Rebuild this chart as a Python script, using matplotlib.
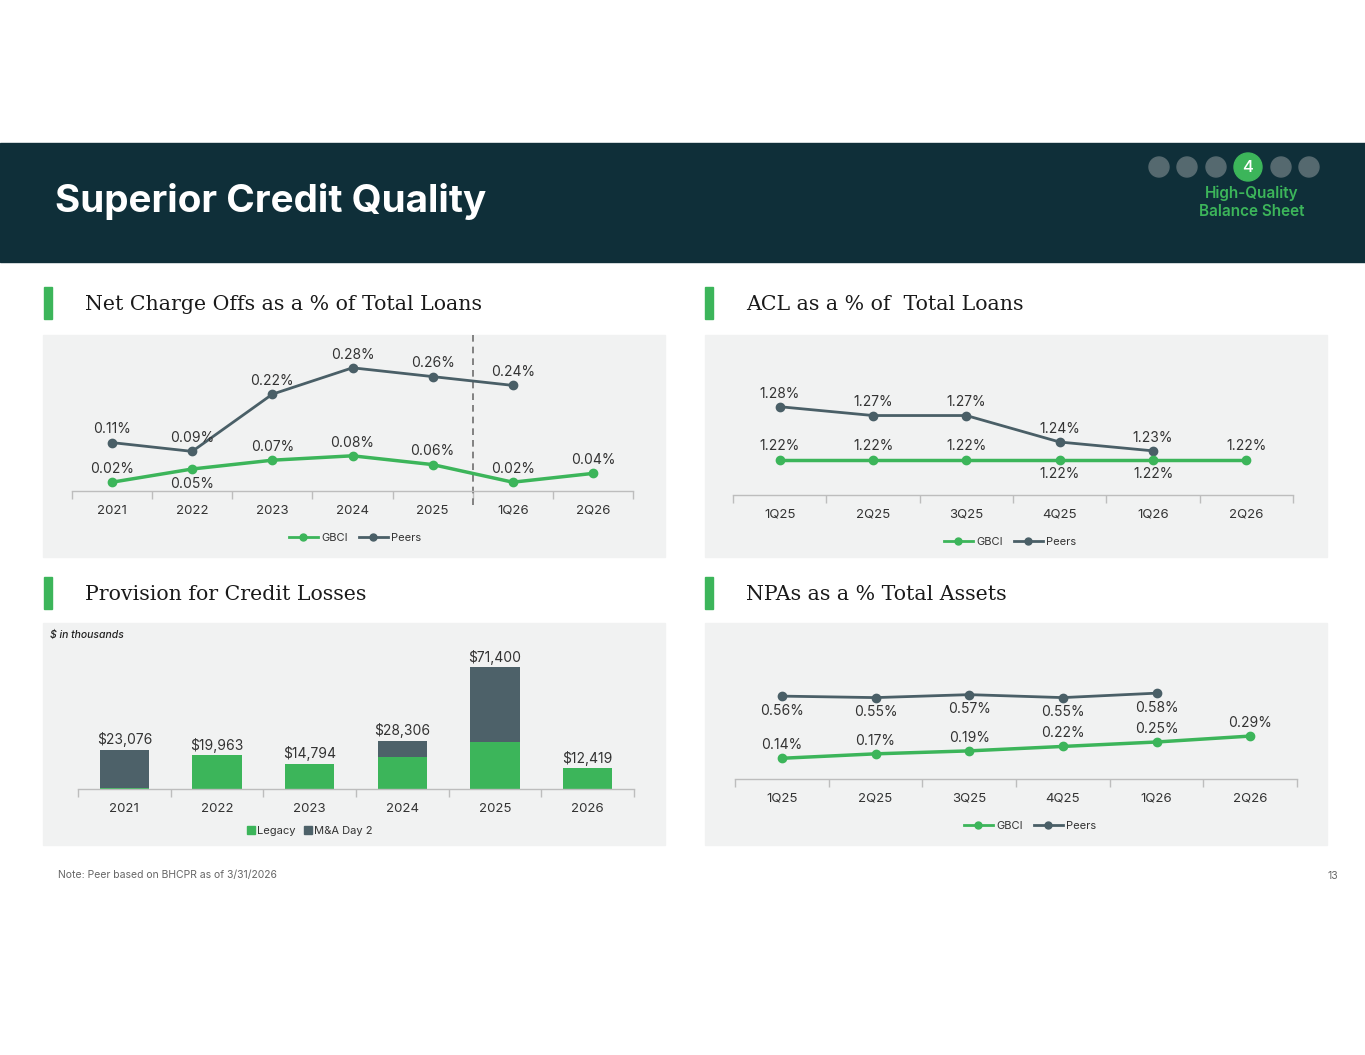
import matplotlib
matplotlib.use("Agg")
import matplotlib.pyplot as plt
from matplotlib.patches import Rectangle, Ellipse, Patch
from matplotlib.lines import Line2D
import numpy as np

# ---------------- data ----------------
nco_cats = ["2021", "2022", "2023", "2024", "2025", "1Q26", "2Q26"]
nco_gbci = [0.02, 0.05, 0.07, 0.08, 0.06, 0.02, 0.04]
nco_peers = [0.11, 0.09, 0.22, 0.28, 0.26, 0.24]
nco_gbci_pos = ["above", "below", "above", "above", "above", "above", "above"]

acl_cats = ["1Q25", "2Q25", "3Q25", "4Q25", "1Q26", "2Q26"]
acl_gbci = [1.22, 1.22, 1.22, 1.22, 1.22, 1.22]
acl_peers = [1.28, 1.27, 1.27, 1.24, 1.23]
acl_gbci_pos = ["above", "above", "above", "below", "below", "above"]

prov_cats = ["2021", "2022", "2023", "2024", "2025", "2026"]
prov_legacy = [400, 19963, 14794, 18700, 27500, 12419]
prov_mna = [22676, 0, 0, 9606, 43900, 0]
prov_totals = ["$23,076", "$19,963", "$14,794", "$28,306", "$71,400", "$12,419"]

npa_cats = ["1Q25", "2Q25", "3Q25", "4Q25", "1Q26", "2Q26"]
npa_gbci = [0.14, 0.17, 0.19, 0.22, 0.25, 0.29]
npa_peers = [0.56, 0.55, 0.57, 0.55, 0.58]

# ---------------- style ----------------
W, H = 1365, 1055
GREEN = "#3cb55a"
SLATE = "#4a5f67"
BARDARK = "#4d6169"
DARK = "#0f2f39"
PANEL = "#f1f2f2"
AXIS = "#bdbdbd"
TXT = "#333333"
SANS = ["Inter", "DejaVu Sans"]
SERIF = ["DejaVu Serif"]

plt.rcParams["font.family"] = SANS

fig = plt.figure(figsize=(W / 100, H / 100), dpi=100)
fig.patch.set_facecolor("white")


def fx(x):
    return x / W


def fy(y):
    return 1 - y / H


def rect_px(x0, y0, x1, y1, color, z=-5):
    fig.patches.append(Rectangle((fx(x0), fy(y1)), fx(x1 - x0), (y1 - y0) / H,
                                 transform=fig.transFigure, color=color, zorder=z))


# header band
rect_px(0, 143, W, 262, DARK)
fig.text(fx(55), fy(201), "Superior Credit Quality", color="white",
         fontsize=27.8, fontweight="bold", va="center", ha="left")

# progress dots
dot_x = [1159, 1187, 1216, 1248, 1281, 1309]
for i, x in enumerate(dot_x):
    r = 14 if i == 3 else 10
    col = GREEN if i == 3 else "#55696f"
    fig.patches.append(Ellipse((fx(x), fy(167)), 2 * r / W, 2 * r / H,
                               transform=fig.transFigure, color=col, zorder=-4))
fig.text(fx(1248), fy(168), "4", color="white", fontsize=12, ha="center", va="center",
         fontweight="medium")
fig.text(fx(1252), fy(193), "High-Quality", color=GREEN, fontsize=11, ha="center", va="center",
         fontweight="semibold")
fig.text(fx(1252), fy(212), "Balance Sheet", color=GREEN, fontsize=11, ha="center", va="center",
         fontweight="semibold")

# panels
panels = [(43, 335, 665, 557), (705, 335, 1327, 557), (43, 623, 665, 845), (705, 623, 1327, 845)]
for p in panels:
    rect_px(*p, PANEL)

# section headings
headings = [(44, 303, "Net Charge Offs as a % of Total Loans"),
            (705, 303, "ACL as a % of  Total Loans"),
            (44, 593, "Provision for Credit Losses"),
            (705, 593, "NPAs as a % Total Assets")]
for x, y, t in headings:
    rect_px(x, y - 16, x + 8, y + 16, GREEN)
    fig.text(fx(x + 41), fy(y + 1), t, fontsize=14.8, family=SERIF, color="#1a1a1a",
             va="center", ha="left")


def make_axes(x0, x1, ybase, ymin, ymax, pxper):
    ytop = ybase - (ymax - ymin) * pxper
    ax = fig.add_axes([fx(x0), fy(ybase), fx(x1 - x0), (ybase - ytop) / H])
    ax.set_ylim(ymin, ymax)
    ax.patch.set_alpha(0)
    for s in ["top", "right", "left"]:
        ax.spines[s].set_visible(False)
    ax.spines["bottom"].set_color(AXIS)
    ax.spines["bottom"].set_linewidth(1)
    ax.set_yticks([])
    return ax


def cat_axis(ax, cats):
    n = len(cats)
    ax.set_xlim(-0.5, n - 0.5)
    ax.set_xticks(range(n))
    ax.set_xticklabels(cats, fontsize=9.5, color=TXT)
    ax.tick_params(axis="x", which="major", length=0, pad=10)
    ax.set_xticks([i - 0.5 for i in range(n + 1)], minor=True)
    ax.tick_params(axis="x", which="minor", length=6, color=AXIS, width=1)


def line_legend(ax, cx, cy):
    hs = [Line2D([], [], color=GREEN, lw=2, marker="o", ms=5),
          Line2D([], [], color=SLATE, lw=2, marker="o", ms=5)]
    ax.legend(hs, ["GBCI", "Peers"], loc="center", bbox_to_anchor=(fx(cx), fy(cy)),
              bbox_transform=fig.transFigure, ncol=2, frameon=False, fontsize=8,
              handlelength=2.6, handletextpad=0.3, columnspacing=1.0,
              labelcolor=TXT)


def lab(ax, x, y, v, where, fmt="{:.2f}%"):
    off = 9.5 if where == "above" else -10.5
    ax.annotate(fmt.format(v), (x, y), xytext=(0, off), textcoords="offset points",
                ha="center", va="center", fontsize=10, color=TXT)


# ---- NCO ----
ax1 = make_axes(72, 633, 491, 0, 0.35, 440)
cat_axis(ax1, nco_cats)
x = np.arange(len(nco_cats))
ax1.plot(x[:len(nco_peers)], nco_peers, color=SLATE, lw=2, marker="o", ms=6, zorder=3)
ax1.plot(x, nco_gbci, color=GREEN, lw=2.5, marker="o", ms=6, zorder=4)
for i, v in enumerate(nco_peers):
    lab(ax1, i, v, v, "above")
for i, v in enumerate(nco_gbci):
    lab(ax1, i, v, v, nco_gbci_pos[i])
ax1.axvline(4.5, ymin=-0.09, ymax=1.013, clip_on=False, color="#6f6f6f", lw=1.2,
            ls=(0, (4, 3)))
line_legend(ax1, 355, 538)

# ---- ACL ----
ax2 = make_axes(733, 1293, 495, 1.18, 1.34, 883)
cat_axis(ax2, acl_cats)
x = np.arange(len(acl_cats))
ax2.plot(x[:len(acl_peers)], acl_peers, color=SLATE, lw=2, marker="o", ms=6, zorder=3)
ax2.plot(x, acl_gbci, color=GREEN, lw=2.5, marker="o", ms=6, zorder=4)
for i, v in enumerate(acl_peers):
    lab(ax2, i, v, v, "above")
for i, v in enumerate(acl_gbci):
    lab(ax2, i, v, v, acl_gbci_pos[i])
line_legend(ax2, 1010, 542)

# ---- Provision ----
ax3 = make_axes(78, 634, 789, 0, 80000, 1 / 585)
cat_axis(ax3, prov_cats)
x = np.arange(len(prov_cats))
ax3.bar(x, prov_legacy, width=0.53, color=GREEN, zorder=2)
ax3.bar(x, prov_mna, width=0.53, bottom=prov_legacy, color=BARDARK, zorder=2)
tot = np.array(prov_legacy) + np.array(prov_mna)
for i, t in enumerate(prov_totals):
    ax3.annotate(t, (i, tot[i]), xytext=(0, 7), textcoords="offset points",
                 ha="center", va="center", fontsize=10, color=TXT)
ax3.legend([Patch(color=GREEN), Patch(color=BARDARK)], ["Legacy", "M&A Day 2"],
           loc="center", bbox_to_anchor=(fx(310), fy(831)), bbox_transform=fig.transFigure,
           ncol=2, frameon=False, fontsize=8, handlelength=0.7, handleheight=0.7,
           handletextpad=0.2, columnspacing=0.8, labelcolor=TXT)
fig.text(fx(50), fy(635), "$ in thousands", fontsize=7.5, style="italic",
         fontweight="medium", color="#222222", va="center")

# ---- NPA ----
ax4 = make_axes(735, 1297, 779, 0, 1.0, 148)
cat_axis(ax4, npa_cats)
x = np.arange(len(npa_cats))
ax4.plot(x[:len(npa_peers)], npa_peers, color=SLATE, lw=2, marker="o", ms=6, zorder=3)
ax4.plot(x, npa_gbci, color=GREEN, lw=2.5, marker="o", ms=6, zorder=4)
for i, v in enumerate(npa_peers):
    lab(ax4, i, v, v, "below")
for i, v in enumerate(npa_gbci):
    lab(ax4, i, v, v, "above")
line_legend(ax4, 1030, 826)

# footer
fig.text(fx(58), fy(875), "Note: Peer based on BHCPR as of 3/31/2026", fontsize=7.5,
         color="#666666", va="center")
fig.text(fx(1338), fy(876), "13", fontsize=7.5, color="#666666", va="center", ha="right")

fig.savefig("out.png", dpi=100, facecolor="white")
